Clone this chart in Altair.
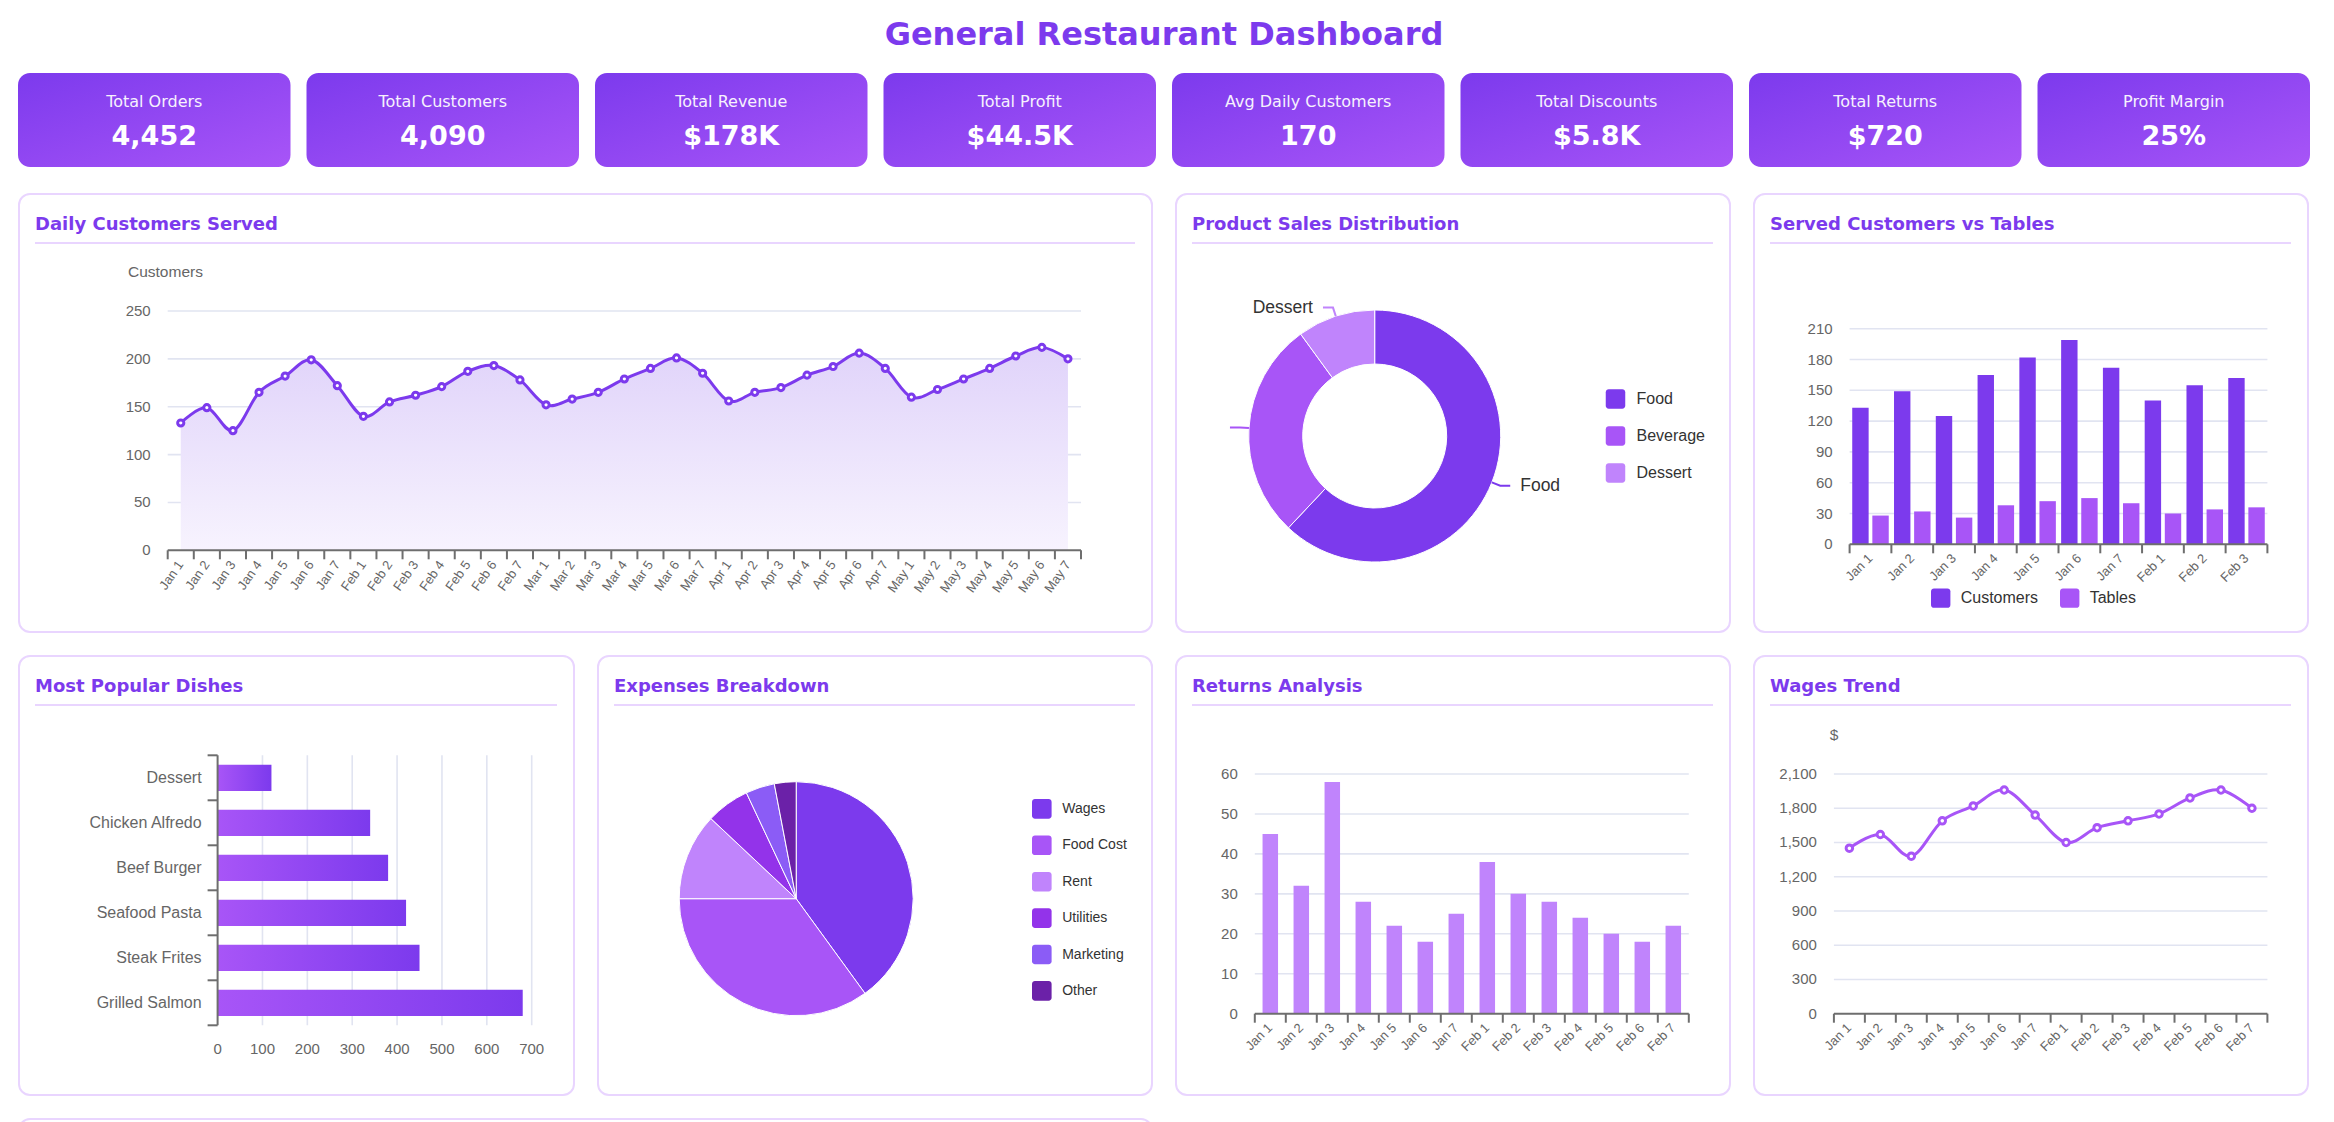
import math

import altair as alt
import pandas as pd

# ---------- palette and type ----------
PURPLE = "#7c3aed"
VIOLET = "#a855f7"
LILAC = "#c084fc"
BORDER = "#e9d5ff"
GRID = "#e1e4f1"
AXIS_DARK = "#6e6e6e"
LABEL = "#666666"
INK = "#333333"
HEAD_FONT = "DejaVu Sans"
BODY_FONT = "Liberation Sans"
ROUNDED_SQUARE = ("M-0.7,-1H0.7A0.3,0.3 0 0 1 1,-0.7V0.7A0.3,0.3 0 0 1 0.7,1"
                  "H-0.7A0.3,0.3 0 0 1 -1,0.7V-0.7A0.3,0.3 0 0 1 -0.7,-1Z")

KPI_GRADIENT = {"gradient": "linear", "x1": 0, "y1": 0, "x2": 1, "y2": 1,
                "stops": [{"offset": 0, "color": "#7c3aed"}, {"offset": 1, "color": "#a855f7"}]}
AREA_GRADIENT = {"gradient": "linear", "x1": 0, "y1": 0, "x2": 0, "y2": 1,
                 "stops": [{"offset": 0, "color": "#e0d3fa"}, {"offset": 1, "color": "#f7f3fe"}]}
BAR_GRADIENT = {"gradient": "linear", "x1": 0, "y1": 0, "x2": 1, "y2": 0,
                "stops": [{"offset": 0, "color": "#a855f7"}, {"offset": 1, "color": "#7c3aed"}]}

# ---------- data ----------
kpi_names = ["Total Orders", "Total Customers", "Total Revenue", "Total Profit",
             "Avg Daily Customers", "Total Discounts", "Total Returns", "Profit Margin"]
kpi_values = ["4,452", "4,090", "$178K", "$44.5K", "170", "$5.8K", "$720", "25%"]

months = ["Jan", "Feb", "Mar", "Apr", "May"]
day_labels = [f"{m} {d}" for m in months for d in range(1, 8)]
daily_customers = [133, 149, 125, 165, 182, 199, 172,
                   140, 155, 162, 171, 187, 193, 178,
                   152, 158, 165, 179, 190, 201, 185,
                   156, 165, 170, 183, 192, 206, 190,
                   160, 168, 179, 190, 203, 212, 200]

product_names = ["Food", "Beverage", "Dessert"]
product_share = [62, 28, 10]
product_colors = [PURPLE, VIOLET, LILAC]

served_days = ["Jan 1", "Jan 2", "Jan 3", "Jan 4", "Jan 5", "Jan 6", "Jan 7", "Feb 1", "Feb 2", "Feb 3"]
served_customers = [133, 149, 125, 165, 182, 199, 172, 140, 155, 162]
served_tables = [28, 32, 26, 38, 42, 45, 40, 30, 34, 36]
served_series = ["Customers", "Tables"]

dishes = ["Dessert", "Chicken Alfredo", "Beef Burger", "Seafood Pasta", "Steak Frites", "Grilled Salmon"]
dish_orders = [120, 340, 380, 420, 450, 680]

expense_names = ["Wages", "Food Cost", "Rent", "Utilities", "Marketing", "Other"]
expense_share = [40, 35, 12, 6, 4, 3]
expense_colors = ["#7c3aed", "#a855f7", "#c084fc", "#9333ea", "#8b5cf6", "#6b21a8"]

two_week_days = ["Jan 1", "Jan 2", "Jan 3", "Jan 4", "Jan 5", "Jan 6", "Jan 7",
                 "Feb 1", "Feb 2", "Feb 3", "Feb 4", "Feb 5", "Feb 6", "Feb 7"]
returns = [45, 32, 58, 28, 22, 18, 25, 38, 30, 28, 24, 20, 18, 22]
wages = [1450, 1570, 1380, 1690, 1820, 1960, 1740, 1500, 1630, 1690, 1750, 1890, 1960, 1800]

# ---------- panel sizes ----------
W_WIDE, W_PANEL, W_FIRST = 1135, 556, 557
H_ROW1, H_ROW2, H_ROW3 = 440, 441, 320
KPI_W, KPI_H, KPI_CARD_H = 2292, 98, 94
GAP = 22


# ---------- helpers ----------
def card_box(width, height):
    return alt.Chart(pd.DataFrame({"w": [width]})).mark_rect(
        fill="transparent", stroke=BORDER, strokeWidth=2, strokeJoin="round", cornerRadius=11).encode(
        x=alt.value(1), x2=alt.value(width - 1), y=alt.value(1), y2=alt.value(height - 1))


def card_layers(width, height, title):
    src = alt.Chart(pd.DataFrame({"title": [title]}))
    head = src.mark_text(align="left", baseline="alphabetic", font=HEAD_FONT, fontWeight="bold",
                         fontSize=18, color=PURPLE).encode(
        x=alt.value(17), y=alt.value(37), text="title:N")
    underline = src.mark_rule(color=BORDER, strokeWidth=2).encode(
        x=alt.value(17), x2=alt.value(width - 18), y=alt.value(50))
    return [card_box(width, height), head, underline]


def category_guides(field, categories, scale, base, left, right, angle):
    """Baseline, boundary ticks and slanted category labels under a band scale."""
    frame = pd.DataFrame({field: categories})
    enc_x = dict(scale=scale, sort=categories, axis=None)
    baseline = alt.Chart(pd.DataFrame({"y": [0]})).mark_rule(color=AXIS_DARK, strokeWidth=2).encode(
        x=alt.value(left), x2=alt.value(right), y=alt.value(base))
    ticks = alt.Chart(frame).mark_rule(color=AXIS_DARK, strokeWidth=2).encode(
        x=alt.X(f"{field}:N", bandPosition=0, **enc_x), y=alt.value(base), y2=alt.value(base + 9))
    last_tick = alt.Chart(pd.DataFrame({"y": [0]})).mark_rule(color=AXIS_DARK, strokeWidth=2).encode(
        x=alt.value(right), y=alt.value(base), y2=alt.value(base + 9))
    labels = alt.Chart(frame).mark_text(angle=360 - angle, align="right", baseline="middle",
                                        font=BODY_FONT, fontSize=13, color=LABEL).encode(
        x=alt.X(f"{field}:N", bandPosition=0.5, **enc_x), y=alt.value(base + 12), text=f"{field}:N")
    return [baseline, ticks, last_tick, labels]


def value_scale_guides(values, scale, x0, x1, fmt="{:,}"):
    """Horizontal grid lines plus the value labels to the left of the plot."""
    frame = pd.DataFrame({"level": values, "text": [fmt.format(v) for v in values]})
    lines = alt.Chart(frame[frame["level"] > 0]).mark_rule(color=GRID, strokeWidth=1.6).encode(
        y=alt.Y("level:Q", scale=scale, axis=None), x=alt.value(x0), x2=alt.value(x1))
    labels = alt.Chart(frame).mark_text(align="right", baseline="middle", font=BODY_FONT,
                                        fontSize=15, color=LABEL).encode(
        y=alt.Y("level:Q", scale=scale, axis=None), x=alt.value(x0 - 17), text="text:N")
    return [lines, labels]


def note(text, x, y, align="left"):
    return alt.Chart(pd.DataFrame({"t": [text]})).mark_text(
        align=align, baseline="middle", font=BODY_FONT, fontSize=15.5, color=LABEL).encode(
        x=alt.value(x), y=alt.value(y), text="t:N")


def swatch_legend(x, y, size, font_size, row_pad, offset, direction="vertical", col_pad=20):
    return alt.Legend(title=None, orient="none", legendX=x, legendY=y, direction=direction,
                      symbolType=ROUNDED_SQUARE, symbolSize=size, symbolStrokeWidth=0,
                      labelFont=BODY_FONT, labelFontSize=font_size, labelColor=INK,
                      labelOffset=offset, rowPadding=row_pad, columnPadding=col_pad, padding=0)


def pie_layers(names, shares, colors, field, cx, cy, outer, inner, legend, width, height,
               leaders=False):
    frame = pd.DataFrame({field: names, "share": shares, "rank": list(range(len(names)))})
    colour = alt.Scale(domain=names, range=colors)
    arcs = alt.Chart(frame).mark_arc(radius=outer, innerRadius=inner, stroke="white",
                                      strokeWidth=1).encode(
        theta=alt.Theta("share:Q", stack=True), order=alt.Order("rank:Q"),
        color=alt.Color(f"{field}:N", scale=colour, sort=names, legend=legend),
        x=alt.value(cx), y=alt.value(cy))
    layers = [arcs]
    if not leaders:
        return layers
    # leader lines start at the outer edge at each slice's mid angle
    total = float(sum(shares))
    path_rows, text_rows = [], []
    start = 0.0
    for name, share in zip(names, shares):
        mid = 2 * math.pi * (start + share / 2) / total
        start += share
        ux, uy = math.sin(mid), -math.cos(mid)
        side = 1 if ux >= 0 else -1
        ex, ey = cx + (outer + 9) * ux, cy + (outer + 9) * uy
        tail = ex + side * 10
        path_rows += [
            {field: name, "step": 0, "px": cx + outer * ux, "py": cy + outer * uy},
            {field: name, "step": 1, "px": ex, "py": ey},
            {field: name, "step": 2, "px": tail, "py": ey},
        ]
        text_x = tail + side * 10
        est_width = 0.55 * 17.5 * len(name)
        if side > 0 and text_x + est_width < width - 10 or side < 0 and text_x - est_width > 17:
            text_rows.append({field: name, "px": text_x, "py": ey, "side": side})
    lin_x = alt.Scale(domain=[0, width], range=[0, width], zero=False, nice=False)
    lin_y = alt.Scale(domain=[0, height], range=[0, height], zero=False, nice=False)
    lines = alt.Chart(pd.DataFrame(path_rows)).mark_line(strokeWidth=2).encode(
        x=alt.X("px:Q", scale=lin_x, axis=None), y=alt.Y("py:Q", scale=lin_y, axis=None),
        color=alt.Color(f"{field}:N", scale=colour, legend=None), order=alt.Order("step:Q"))
    layers.append(lines)
    tdf = pd.DataFrame(text_rows)
    for side, align in ((1, "left"), (-1, "right")):
        part = tdf[tdf["side"] == side]
        if len(part):
            layers.append(alt.Chart(part).mark_text(align=align, baseline="middle", font=BODY_FONT,
                                                    fontSize=17.5, color=INK).encode(
                x=alt.X("px:Q", scale=lin_x, axis=None), y=alt.Y("py:Q", scale=lin_y, axis=None),
                text=f"{field}:N"))
    return layers


# ---------- KPI strip ----------
kpi_df = pd.DataFrame({"metric": kpi_names, "value": kpi_values})
kpi_x = alt.X("metric:N", sort=kpi_names, axis=None,
              scale=alt.Scale(domain=kpi_names, range=[0, KPI_W], paddingInner=16 / 288.5, paddingOuter=0))
kpi_cards = alt.Chart(kpi_df).mark_rect(cornerRadius=12, fill=KPI_GRADIENT).encode(
    x=kpi_x, y=alt.value(0), y2=alt.value(KPI_CARD_H))
kpi_title = alt.Chart(kpi_df).mark_text(font=HEAD_FONT, fontSize=16, color="white", opacity=0.93,
                                        baseline="middle").encode(
    x=kpi_x, y=alt.value(28.5), text="metric:N")
kpi_number = alt.Chart(kpi_df).mark_text(font=HEAD_FONT, fontSize=27, fontWeight="bold", color="white",
                                         baseline="middle").encode(
    x=kpi_x, y=alt.value(64), text="value:N")
kpi_strip = alt.layer(kpi_cards, kpi_title, kpi_number).properties(width=KPI_W, height=KPI_H)

# ---------- Daily Customers Served ----------
d_left, d_right, d_base, d_top = 149.7, 1063.0, 357.3, 118.0
d_x = alt.Scale(type="band", domain=day_labels, range=[d_left, d_right], paddingInner=0, paddingOuter=0)
d_y = alt.Scale(domain=[0, 250], range=[d_base, d_top], nice=False, zero=True)
daily_base = alt.Chart(pd.DataFrame({"day": day_labels, "customers": daily_customers})).encode(
    x=alt.X("day:N", sort=day_labels, scale=d_x, axis=None),
    y=alt.Y("customers:Q", scale=d_y, axis=None))
daily_panel = alt.layer(
    *card_layers(W_WIDE, H_ROW1, "Daily Customers Served"),
    *value_scale_guides([0, 50, 100, 150, 200, 250], d_y, d_left, d_right),
    daily_base.mark_area(interpolate="cardinal", fill=AREA_GRADIENT, fillOpacity=1),
    *category_guides("day", day_labels, d_x, d_base, d_left, d_right, 55),
    daily_base.mark_line(interpolate="cardinal", color=PURPLE, strokeWidth=3),
    daily_base.mark_point(filled=True, fill="white", stroke=PURPLE, strokeWidth=3, size=38, opacity=1),
    note("Customers", 110, 79),
).properties(width=W_WIDE, height=H_ROW1)

# ---------- Product Sales Distribution ----------
product_panel = alt.layer(
    *card_layers(W_PANEL, H_ROW1, "Product Sales Distribution"),
    *pie_layers(product_names, product_share, product_colors, "product", 199.7, 243.0, 126, 72,
                swatch_legend(430.5, 196, 380, 16, 17, 11), W_PANEL, H_ROW1, leaders=True),
).properties(width=W_PANEL, height=H_ROW1)

# ---------- Served Customers vs Tables ----------
s_left, s_right, s_base, s_top = 96.6, 514.4, 351.3, 135.7
served_df = pd.DataFrame({
    "day": served_days * 2,
    "series": ["Customers"] * len(served_days) + ["Tables"] * len(served_days),
    "count": served_customers + served_tables,
})
s_x = alt.Scale(type="band", domain=served_days, range=[s_left, s_right], paddingInner=0, paddingOuter=0)
s_y = alt.Scale(domain=[0, 210], range=[s_base, s_top], nice=False, zero=True)
served_bars = alt.Chart(served_df).mark_bar().encode(
    x=alt.X("day:N", sort=served_days, scale=s_x, axis=None),
    xOffset=alt.XOffset("series:N", sort=served_series,
                        scale=alt.Scale(domain=served_series, paddingInner=0.184, paddingOuter=0.131)),
    y=alt.Y("count:Q", scale=s_y, axis=None),
    color=alt.Color("series:N", sort=served_series,
                    scale=alt.Scale(domain=served_series, range=[PURPLE, VIOLET]),
                    legend=swatch_legend(177.7, 395, 376, 16, 0, 10, "horizontal", 21)),
)
served_panel = alt.layer(
    *card_layers(W_PANEL, H_ROW1, "Served Customers vs Tables"),
    *value_scale_guides(list(range(0, 211, 30)), s_y, s_left, s_right),
    served_bars,
    *category_guides("day", served_days, s_x, s_base, s_left, s_right, 45),
).properties(width=W_PANEL, height=H_ROW1)

# ---------- Most Popular Dishes ----------
m_left, m_right, m_top, m_bottom = 199.6, 513.7, 100.3, 370.3
m_x = alt.Scale(domain=[0, 700], range=[m_left, m_right], nice=False, zero=True)
m_y = alt.Scale(type="band", domain=dishes, range=[m_top, m_bottom], paddingInner=0, paddingOuter=0)
dish_df = pd.DataFrame({"dish": dishes, "orders": dish_orders})
dish_bars = alt.Chart(dish_df).mark_bar(height={"band": 0.585}, fill=BAR_GRADIENT).encode(
    y=alt.Y("dish:N", sort=dishes, scale=m_y, axis=None),
    x=alt.X("orders:Q", scale=m_x, axis=None),
)
dish_names = alt.Chart(dish_df).mark_text(align="right", baseline="middle", font=BODY_FONT,
                                          fontSize=16, color=LABEL).encode(
    y=alt.Y("dish:N", sort=dishes, scale=m_y, axis=None, bandPosition=0.5),
    x=alt.value(m_left - 16), text="dish:N")
dish_ticks = alt.Chart(dish_df).mark_rule(color=AXIS_DARK, strokeWidth=2).encode(
    y=alt.Y("dish:N", sort=dishes, scale=m_y, axis=None, bandPosition=0),
    x=alt.value(m_left - 10), x2=alt.value(m_left))
dish_frame = alt.Chart(pd.DataFrame({"y": [0]}))
dish_spine = [
    dish_frame.mark_rule(color=AXIS_DARK, strokeWidth=2).encode(
        x=alt.value(m_left), y=alt.value(m_top), y2=alt.value(m_bottom)),
    dish_frame.mark_rule(color=AXIS_DARK, strokeWidth=2).encode(
        x=alt.value(m_left - 10), x2=alt.value(m_left), y=alt.value(m_bottom)),
]
dish_levels = pd.DataFrame({"level": list(range(0, 701, 100))})
dish_levels["text"] = dish_levels["level"].astype(str)
dish_grid = alt.Chart(dish_levels[dish_levels["level"] > 0]).mark_rule(color=GRID, strokeWidth=1.6).encode(
    x=alt.X("level:Q", scale=m_x, axis=None), y=alt.value(m_top), y2=alt.value(m_bottom))
dish_values = alt.Chart(dish_levels).mark_text(align="center", baseline="middle", font=BODY_FONT,
                                               fontSize=15, color=LABEL).encode(
    x=alt.X("level:Q", scale=m_x, axis=None), y=alt.value(m_bottom + 23.5), text="text:N")
dishes_panel = alt.layer(
    *card_layers(W_FIRST, H_ROW2, "Most Popular Dishes"),
    dish_grid, dish_values, dish_bars, dish_names, dish_ticks, *dish_spine,
).properties(width=W_FIRST, height=H_ROW2)

# ---------- Expenses Breakdown ----------
expense_panel = alt.layer(
    *card_layers(W_PANEL, H_ROW2, "Expenses Breakdown"),
    *pie_layers(expense_names, expense_share, expense_colors, "expense", 199.2, 243.7, 117, 0,
                swatch_legend(434.8, 143.9, 384, 14, 16.4, 10.4), W_PANEL, H_ROW2),
).properties(width=W_PANEL, height=H_ROW2)

# ---------- Returns Analysis ----------
r_left, r_right, r_base, r_top = 79.8, 513.8, 358.7, 119.0
r_x = alt.Scale(type="band", domain=two_week_days, range=[r_left, r_right], paddingInner=0, paddingOuter=0)
r_y = alt.Scale(domain=[0, 60], range=[r_base, r_top], nice=False, zero=True)
returns_bars = alt.Chart(pd.DataFrame({"day": two_week_days, "returns": returns})).mark_bar(
    width={"band": 0.5}, color=LILAC).encode(
    x=alt.X("day:N", sort=two_week_days, scale=r_x, axis=None),
    y=alt.Y("returns:Q", scale=r_y, axis=None),
)
returns_panel = alt.layer(
    *card_layers(W_PANEL, H_ROW2, "Returns Analysis"),
    *value_scale_guides(list(range(0, 61, 10)), r_y, r_left, r_right),
    returns_bars,
    *category_guides("day", two_week_days, r_x, r_base, r_left, r_right, 45),
).properties(width=W_PANEL, height=H_ROW2)

# ---------- Wages Trend ----------
w_left, w_right, w_base, w_top = 80.9, 514.4, 358.7, 119.0
w_x = alt.Scale(type="band", domain=two_week_days, range=[w_left, w_right], paddingInner=0, paddingOuter=0)
w_y = alt.Scale(domain=[0, 2100], range=[w_base, w_top], nice=False, zero=True)
wages_base = alt.Chart(pd.DataFrame({"day": two_week_days, "wages": wages})).encode(
    x=alt.X("day:N", sort=two_week_days, scale=w_x, axis=None),
    y=alt.Y("wages:Q", scale=w_y, axis=None),
)
wages_panel = alt.layer(
    *card_layers(W_PANEL, H_ROW2, "Wages Trend"),
    *value_scale_guides(list(range(0, 2101, 300)), w_y, w_left, w_right),
    *category_guides("day", two_week_days, w_x, w_base, w_left, w_right, 45),
    wages_base.mark_line(interpolate="cardinal", color=VIOLET, strokeWidth=3),
    wages_base.mark_point(filled=True, fill="white", stroke=VIOLET, strokeWidth=3, size=42, opacity=1),
    note("$", 81, 79.7, "center"),
).properties(width=W_PANEL, height=H_ROW2)

# ---------- next row of cards (starts at the bottom edge of the page) ----------
next_card = card_box(W_WIDE, H_ROW3).properties(width=W_WIDE, height=H_ROW3)

# ---------- page ----------
row1 = alt.hconcat(daily_panel, product_panel, served_panel, spacing=GAP).resolve_scale(color="independent")
row2 = alt.hconcat(dishes_panel, expense_panel, returns_panel, wages_panel,
                   spacing=GAP).resolve_scale(color="independent")

chart = alt.vconcat(
    kpi_strip, row1, row2, next_card, spacing=GAP,
    title=alt.TitleParams("General Restaurant Dashboard", fontSize=32, font=HEAD_FONT,
                          fontWeight="bold", color=PURPLE, anchor="middle", offset=21),
).resolve_scale(color="independent").properties(
    padding={"left": 18, "top": 19, "right": 16, "bottom": 10}, background="white",
).configure_view(stroke=None)

chart.save("out.html", embed_options={"renderer": "svg", "actions": False})
